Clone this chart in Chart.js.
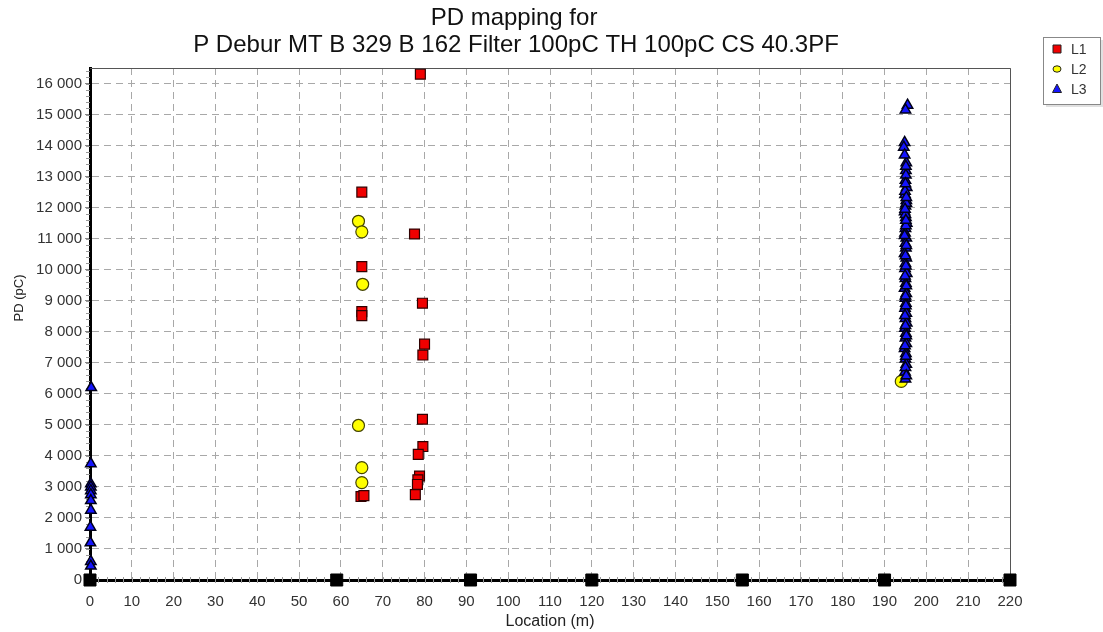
<!DOCTYPE html>
<html>
<head>
<meta charset="utf-8">
<script src="https://cdn.jsdelivr.net/npm/chart.js@4/dist/chart.umd.min.js"></script>
<style>
  html, body { margin: 0; padding: 0; background: #fff; }
  #wrap { position: relative; width: 1103px; height: 632px; }
</style>
</head>
<body>
<div id="wrap"><canvas id="pdChart"></canvas></div>
<script>
// data
const titleLines = ['PD mapping for', 'P Debur MT B 329 B 162 Filter 100pC TH 100pC CS 40.3PF'];
const seriesNames = ['L1', 'L2', 'L3'];
const xTitle = 'Location (m)';
const yTitle = 'PD (pC)';

const l1X = [79, 65, 77.6, 65, 79.5, 65, 65, 80, 79.6, 79.5, 79.6, 78.5, 78.8, 78.4, 78.3, 77.8, 64.8, 65.5];
const l1Y = [16300, 12500, 11150, 10100, 8920, 8650, 8520, 7600, 7250, 5180, 4300, 4050, 3350, 3230, 3080, 2750, 2690, 2720];

const l2X = [64.2, 65, 65.2, 64.2, 65, 65, 194];
const l2Y = [11560, 11220, 9530, 4980, 3620, 3140, 6400];

const l3X = [0.3, 0.2, 0.2, 0.2, 0.2, 0.2, 0.2, 0.2, 0.1, 0.1, 0.2, 0.2,
  195.5, 195, 194.8, 194.6, 195.2, 195.1, 195, 195.3, 194.9, 195.2, 195, 194.8, 195.1, 195.3, 195, 194.9,
  195.2, 195, 195.1, 194.8, 195.2, 195, 194.9, 195.3, 195, 195.1, 194.8, 195.2, 195, 195.1, 194.9, 195.2,
  195, 195.3, 194.9, 195.1, 195, 195.2, 194.8, 195.1, 195, 195.2, 194.9, 195,
  195.1, 194.9, 195.2, 195, 195.1, 194.8, 195.2, 195, 195.1, 194.9, 195.2, 195, 195.1, 194.9, 195, 195.2,
  194.9, 195.1, 195, 195.2, 194.8, 195.1, 195, 195.2, 194.9, 195.1];
const l3Y = [6200, 3750, 3100, 3000, 2880, 2750, 2560, 2250, 1700, 1200, 600, 450,
  15300, 15150, 14100, 13950, 13450, 13200, 12880, 12650, 12420, 12230, 12050, 11870, 11680, 11500, 11330, 11180,
  11020, 10850, 10700, 10520, 10380, 10200, 10040, 9880, 9720, 9560, 9400, 9230, 9080, 8920, 8760, 8600,
  8430, 8280, 8110, 7950, 7800, 7620, 7460, 7300, 7120, 6950, 6700, 6480,
  13050, 12530, 12140, 11780, 11420, 11100, 10780, 10450, 10120, 9800, 9480, 9150, 8840, 8520, 8200, 7870,
  7550, 7210, 6850, 6580, 13700, 13330, 12770, 12330, 11950, 11590];

// joint markers on the base line
const jointX = [0, 59, 91, 120, 156, 190, 220];
const jointY = [0, 0, 0, 0, 0, 0, 0];

const yTicks = [0, 1000, 2000, 3000, 4000, 5000, 6000, 7000, 8000, 9000, 10000, 11000, 12000, 13000, 14000, 15000, 16000];
const xMin = 0, xMax = 220, xStep = 10;
const yMin = 0, yMax = 16500;

const FONT = '"Liberation Sans", Arial, sans-serif';

const pts = (xs, ys) => xs.map((x, i) => ({ x: x, y: ys[i] }));
const fmt = v => String(v).replace(/\B(?=(\d{3})+(?!\d))/g, ' ');

const seriesStyle = [
  { color: '#f00000', shape: 'rect' },
  { color: '#ffff00', shape: 'circle' },
  { color: '#1414ff', shape: 'triangle' }
];

// frame + minor ticks under the points
const framePlugin = {
  id: 'frame',
  beforeDatasetsDraw(chart) {
    const ctx = chart.ctx;
    const a = chart.chartArea;
    const xs = chart.scales.x, ys = chart.scales.y;
    ctx.save();
    ctx.strokeStyle = '#555';
    ctx.lineWidth = 1;
    ctx.beginPath();
    ctx.moveTo(a.left, a.top + 0.5);
    ctx.lineTo(a.right + 0.5, a.top + 0.5);
    ctx.lineTo(a.right + 0.5, a.bottom);
    ctx.stroke();

    ctx.strokeStyle = '#999';
    ctx.beginPath();
    for (let v = 200; v < yMax; v += 200) {
      const y = Math.round(ys.getPixelForValue(v)) + 0.5;
      ctx.moveTo(a.left - 4, y);
      ctx.lineTo(a.left, y);
    }
    for (let v = 2; v < xMax; v += 2) {
      const x = Math.round(xs.getPixelForValue(v)) + 0.5;
      ctx.moveTo(x, a.bottom - 3);
      ctx.lineTo(x, a.bottom + 3);
    }
    ctx.stroke();
    ctx.restore();
  },
  afterDraw(chart) {
    const ctx = chart.ctx;
    ctx.save();
    // title
    ctx.fillStyle = '#111';
    ctx.textAlign = 'center';
    ctx.textBaseline = 'middle';
    ctx.font = '24px ' + FONT;
    ctx.fillText(titleLines[0], 514, 18);
    ctx.fillText(titleLines[1], 516, 45);

    // y title
    ctx.save();
    ctx.translate(19, 298);
    ctx.rotate(-Math.PI / 2);
    ctx.font = '13px ' + FONT;
    ctx.fillStyle = '#222';
    ctx.fillText(yTitle, 0, 0);
    ctx.restore();

    // legend box
    const bx = 1043, by = 37, bw = 57, bh = 67;
    ctx.fillStyle = 'rgba(0,0,0,0.12)';
    ctx.fillRect(bx + 3, by + 3, bw, bh);
    ctx.fillStyle = '#fff';
    ctx.fillRect(bx, by, bw, bh);
    ctx.strokeStyle = '#888';
    ctx.lineWidth = 1;
    ctx.strokeRect(bx + 0.5, by + 0.5, bw, bh);
    ctx.font = '14px ' + FONT;
    ctx.textAlign = 'left';
    seriesNames.forEach((name, i) => {
      const cy = by + 12 + i * 20;
      const cx = bx + 14;
      const st = seriesStyle[i];
      ctx.fillStyle = st.color;
      ctx.strokeStyle = '#222';
      ctx.beginPath();
      if (st.shape === 'rect') {
        ctx.rect(cx - 4, cy - 4, 8, 8);
      } else if (st.shape === 'circle') {
        ctx.ellipse(cx, cy, 4, 3.2, 0, 0, Math.PI * 2);
      } else {
        ctx.moveTo(cx, cy - 5);
        ctx.lineTo(cx + 4.5, cy + 3.5);
        ctx.lineTo(cx - 4.5, cy + 3.5);
        ctx.closePath();
      }
      ctx.fill();
      ctx.stroke();
      ctx.fillStyle = '#333';
      ctx.fillText(name, bx + 28, cy + 1);
    });
    ctx.restore();
  }
};

const ctx = document.getElementById('pdChart').getContext('2d');

const chart = new Chart(ctx, {
  type: 'scatter',
  data: {
    datasets: [
      {
        label: 'joints',
        data: pts(jointX, jointY),
        pointStyle: 'rect',
        pointRadius: 8.5,
        pointHoverRadius: 8.5,
        backgroundColor: '#000',
        borderColor: '#000',
        borderWidth: 1,
        clip: false,
        order: 0
      },
      {
        label: seriesNames[0],
        data: pts(l1X, l1Y),
        pointStyle: 'rect',
        pointRadius: 7,
        backgroundColor: seriesStyle[0].color,
        borderColor: '#300000',
        borderWidth: 1.2,
        clip: false,
        order: 1
      },
      {
        label: seriesNames[2],
        data: pts(l3X, l3Y),
        pointStyle: 'triangle',
        pointRadius: 6,
        backgroundColor: seriesStyle[2].color,
        borderColor: '#000018',
        borderWidth: 1.5,
        clip: false,
        order: 2
      },
      {
        label: seriesNames[1],
        data: pts(l2X, l2Y),
        pointStyle: 'circle',
        pointRadius: 6,
        backgroundColor: seriesStyle[1].color,
        borderColor: '#444400',
        borderWidth: 1.2,
        clip: false,
        order: 3
      }
    ]
  },
  options: {
    responsive: true,
    maintainAspectRatio: false,
    animation: false,
    layout: { padding: { top: 68, right: 93, left: 0, bottom: 0 } },
    plugins: {
      legend: { display: false },
      title: { display: false },
      tooltip: { enabled: false }
    },
    scales: {
      x: {
        type: 'linear',
        min: xMin,
        max: xMax,
        afterFit: s => { s.height = 52; },
        ticks: {
          stepSize: xStep,
          autoSkip: false,
          maxRotation: 0,
          padding: 5,
          color: '#333',
          font: { family: FONT, size: 15 }
        },
        grid: { color: '#a8a8a8', lineWidth: 1, tickLength: 8, tickColor: 'rgba(0,0,0,0)' },
        border: { display: true, color: '#000', width: 3, dash: [7, 5] },
        title: {
          display: true,
          text: xTitle,
          color: '#222',
          padding: { top: 0, bottom: 1 },
          font: { family: FONT, size: 16 }
        }
      },
      y: {
        type: 'linear',
        min: yMin,
        max: yMax,
        afterFit: s => { s.width = 90; },
        afterBuildTicks: s => { s.ticks = yTicks.map(v => ({ value: v })); },
        ticks: {
          autoSkip: false,
          padding: 3,
          color: '#333',
          font: { family: FONT, size: 15 },
          callback: v => fmt(v)
        },
        grid: { color: '#a8a8a8', lineWidth: 1, tickLength: 5, tickColor: '#888' },
        border: { display: true, color: '#000', width: 3, dash: [7, 5] },
        title: { display: false }
      }
    }
  },
  plugins: [framePlugin]
});
</script>
</body>
</html>
